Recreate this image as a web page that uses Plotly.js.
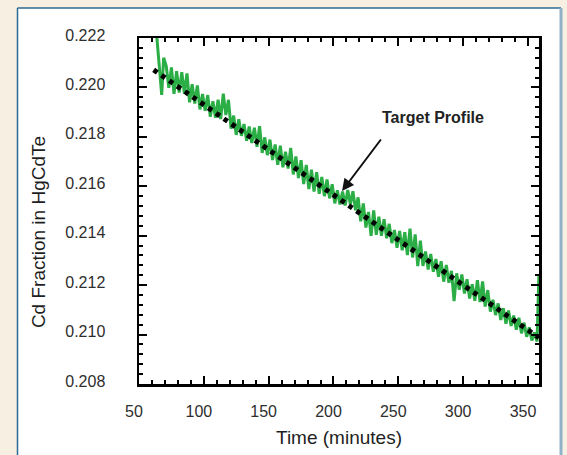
<!DOCTYPE html>
<html>
<head>
<meta charset="utf-8">
<script src="https://cdn.plot.ly/plotly-3.0.1.min.js"></script>
<style>html,body{margin:0;padding:0;background:#f7efe1;}#chart{width:567px;height:455px;}</style>
</head>
<body>
<div id="chart"></div>
<script>
// Measured Cd fraction (green trace)
const timeMeasured = [63, 65.5, 67.5, 69, 71, 73, 75, 77, 79, 81, 83, 85, 87, 89, 91, 93, 95, 97, 99, 101, 103, 105, 107, 109, 111, 113, 115, 117, 119, 121, 123, 125, 127, 129, 131, 133, 135, 137, 139, 141, 143, 145, 147, 149, 151, 153, 155, 157, 159, 161, 163, 165, 167, 169, 171, 173, 175, 177, 179, 181, 183, 185, 187, 189, 191, 193, 195, 197, 199, 201, 203, 205, 207, 209, 211, 213, 215, 217, 219, 221, 223, 225, 227, 229, 231, 233, 235, 237, 239, 241, 243, 245, 247, 249, 251, 253, 255, 257, 259, 261, 263, 265, 267, 269, 271, 273, 275, 277, 279, 281, 283, 285, 287, 289, 291, 293, 295, 297, 299, 301, 303, 305, 307, 309, 311, 313, 315, 317, 319, 321, 323, 325, 327, 329, 331, 333, 335, 337, 339, 341, 343, 345, 347, 349, 351, 353, 355, 357, 358.4];
const cdMeasured = [0.22250, 0.22090, 0.21970, 0.22120, 0.22086, 0.21998, 0.22081, 0.21974, 0.22066, 0.21979, 0.22062, 0.21975, 0.22057, 0.21940, 0.22013, 0.21935, 0.22008, 0.21911, 0.21973, 0.21906, 0.21969, 0.21881, 0.21944, 0.21877, 0.21950, 0.21872, 0.21975, 0.21888, 0.21950, 0.21833, 0.21886, 0.21808, 0.21871, 0.21804, 0.21852, 0.21784, 0.21842, 0.21775, 0.21837, 0.21760, 0.21843, 0.21735, 0.21798, 0.21726, 0.21789, 0.21706, 0.21769, 0.21687, 0.21764, 0.21677, 0.21740, 0.21672, 0.21755, 0.21648, 0.21721, 0.21633, 0.21706, 0.21609, 0.21686, 0.21589, 0.21667, 0.21579, 0.21657, 0.21570, 0.21638, 0.21560, 0.21628, 0.21551, 0.21608, 0.21531, 0.21584, 0.21526, 0.21579, 0.21522, 0.21585, 0.21527, 0.21580, 0.21503, 0.21555, 0.21458, 0.21531, 0.21433, 0.21496, 0.21399, 0.21502, 0.21404, 0.21477, 0.21400, 0.21467, 0.21390, 0.21448, 0.21370, 0.21423, 0.21351, 0.21419, 0.21341, 0.21414, 0.21322, 0.21429, 0.21312, 0.21405, 0.21277, 0.21380, 0.21278, 0.21336, 0.21263, 0.21326, 0.21254, 0.21306, 0.21234, 0.21297, 0.21214, 0.21282, 0.21210, 0.21258, 0.21135, 0.21248, 0.21181, 0.21243, 0.21166, 0.21224, 0.21146, 0.21204, 0.21137, 0.21220, 0.21132, 0.21215, 0.21113, 0.21180, 0.21093, 0.21141, 0.21079, 0.21126, 0.21059, 0.21107, 0.21044, 0.21097, 0.21035, 0.21077, 0.21020, 0.21068, 0.21005, 0.21048, 0.20991, 0.21029, 0.20976, 0.21009, 0.20972, 0.21240];

// Target profile (dotted black line)
const timeTarget = [61.3, 358.5];
const cdTarget = [0.22071, 0.20987];

// Annotation
const annotText = "Target Profile";
const arrowTime = 206.6, arrowCd = 0.21581;
const textTime = 276.7, textCd = 0.21880;

const xTickVals = [50, 100, 150, 200, 250, 300, 350];
const yTickVals = [0.208, 0.210, 0.212, 0.214, 0.216, 0.218, 0.220, 0.222];
const xTitle = "Time (minutes)";
const yTitle = "Cd Fraction in HgCdTe";

const font = '"Liberation Sans", Arial, sans-serif';

const traces = [
  {x: timeMeasured, y: cdMeasured, mode: 'lines', line: {color: '#2aae45', width: 3}, hoverinfo: 'skip'},
  {x: timeTarget, y: cdTarget, mode: 'lines', line: {color: '#000', width: 5, dash: '4.5px,5px'}, hoverinfo: 'skip'}
];

const axisCommon = {
  showline: true, linecolor: '#000', linewidth: 2.5, mirror: 'ticks',
  ticks: 'inside', ticklen: 8, tickwidth: 2, tickcolor: '#000',
  showgrid: false, zeroline: false,
  tickfont: {family: font, size: 16, color: '#2e2e2e'}
};

const layout = {
  width: 567, height: 455,
  margin: {l: 139, r: 28, t: 38, b: 71},
  paper_bgcolor: '#f7efe1', plot_bgcolor: '#ffffff',
  showlegend: false,
  xaxis: Object.assign({}, axisCommon, {
    range: [50, 358.5], tickvals: xTickVals, ticktext: xTickVals.map(String),
    ticklabelstandoff: 11, ticklabelshift: -5,
    minor: {dtick: 10, tick0: 50, ticks: 'inside', ticklen: 4, tickwidth: 2, tickcolor: '#000'},
    title: {text: xTitle, font: {family: font, size: 19, color: '#1e1e1e'}, standoff: 12}
  }),
  yaxis: Object.assign({}, axisCommon, {
    range: [0.208, 0.222], tickvals: yTickVals, ticktext: yTickVals.map(v => v.toFixed(3)),
    ticklabelstandoff: 28, ticklabelshift: -3,
    minor: {dtick: 0.0004, tick0: 0.208, ticks: 'inside', ticklen: 4, tickwidth: 2, tickcolor: '#000'}
  }),
  shapes: [
    {type: 'rect', xref: 'paper', yref: 'paper', x0: -0.30375, x1: 1.055, y0: -0.3, y1: 1.0867, fillcolor: '#ffffff', line: {width: 0}, layer: 'below'},
    {type: 'line', xref: 'paper', yref: 'paper', x0: -0.30375, x1: -0.30375, y0: -0.3, y1: 1.0867, line: {color: '#2b6a94', width: 1.5}, layer: 'below'},
    {type: 'line', xref: 'paper', yref: 'paper', x0: -0.30375, x1: 1.055, y0: 1.0867, y1: 1.0867, line: {color: '#2b6a94', width: 1.5}, layer: 'below'},
    {type: 'line', xref: 'paper', yref: 'paper', x0: 1.055, x1: 1.055, y0: -0.3, y1: 1.0867, line: {color: '#8fb2c9', width: 3}, layer: 'below'}
  ],
  annotations: [
    {x: arrowTime, y: arrowCd, xref: 'x', yref: 'y', text: '', showarrow: true, ax: 40, ay: -53,
     arrowhead: 2, arrowsize: 1.2, arrowwidth: 2, arrowcolor: '#111'},
    {x: textTime, y: textCd, xref: 'x', yref: 'y', text: annotText, showarrow: false,
     font: {family: font, size: 16, color: '#222', weight: 'bold'}},
    {x: -0.2525, y: 0.439, xref: 'paper', yref: 'paper', text: yTitle, showarrow: false, textangle: -90,
     xanchor: 'center', yanchor: 'middle', font: {family: font, size: 19, color: '#1e1e1e'}}
  ]
};

Plotly.newPlot('chart', traces, layout, {staticPlot: true, displayModeBar: false});
</script>
</body>
</html>
